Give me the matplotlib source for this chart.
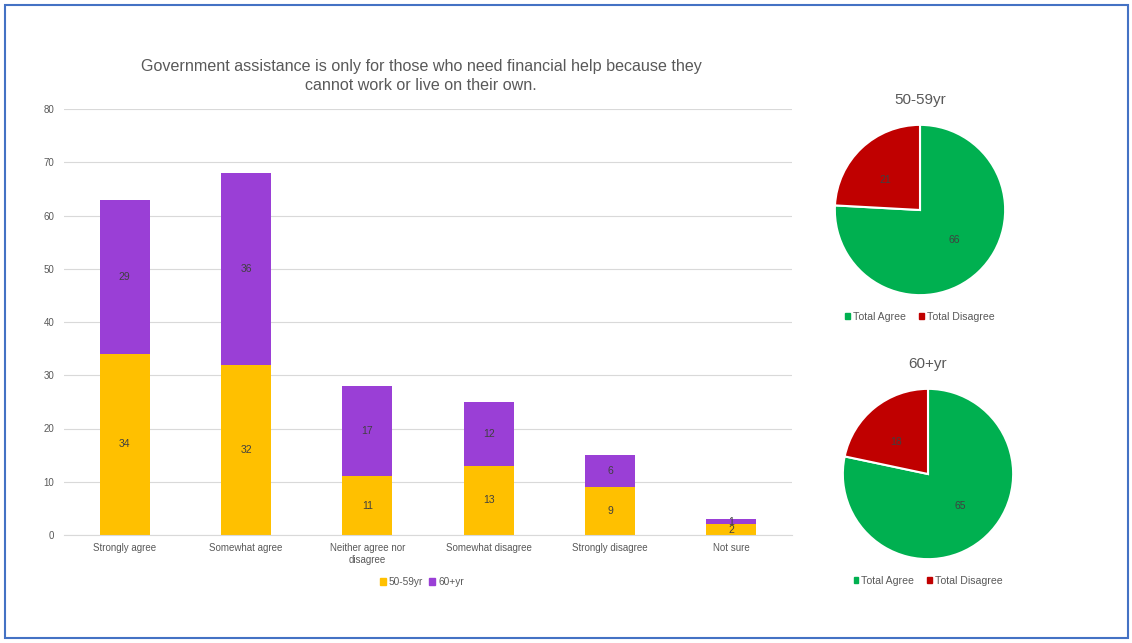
import matplotlib.pyplot as plt
from matplotlib.patches import Rectangle, Patch

plt.rcParams['font.family'] = ['Liberation Sans', 'DejaVu Sans']

# Survey responses by age group
categories = ["Strongly agree", "Somewhat agree", "Neither agree nor\ndisagree",
              "Somewhat disagree", "Strongly disagree", "Not sure"]
age_50_59 = [34, 32, 11, 13, 9, 2]
age_60_plus = [29, 36, 17, 12, 6, 1]

# Totals for the pies
pie_labels = ["Total Agree", "Total Disagree"]
pie_50_59 = [66, 21]
pie_60_plus = [65, 18]

title = ("Government assistance is only for those who need financial help because they\n"
         "cannot work or live on their own.")

ORANGE = "#FFC000"
PURPLE = "#9A3FD6"
GREEN = "#00B050"
RED = "#C00000"
TXT = "#595959"
LBL = "#404040"

fig = plt.figure(figsize=(11.32, 6.43), dpi=100)
fig.patch.set_facecolor("white")

# outer frame
fig.patches.append(Rectangle((5 / 1132, 5 / 643), 1123 / 1132, 633 / 643,
                             transform=fig.transFigure, fill=False,
                             edgecolor="#4472C4", linewidth=1.5))

# ---- stacked bars ----
ax = fig.add_axes([64 / 1132, 108 / 643, 728 / 1132, 426 / 643])
x = range(len(categories))
w = 0.41
ax.bar(x, age_50_59, width=w, color=ORANGE, label="50-59yr", zorder=2)
ax.bar(x, age_60_plus, width=w, bottom=age_50_59, color=PURPLE,
       label="60+yr", zorder=2)
for i, (lo, hi) in enumerate(zip(age_50_59, age_60_plus)):
    ax.text(i, lo / 2, str(lo), ha="center", va="center", fontsize=7.5, color=LBL)
    ax.text(i, lo + hi / 2, str(hi), ha="center", va="center", fontsize=7.5, color=LBL)

ax.set_xlim(-0.5, len(categories) - 0.5)
ax.set_ylim(0, 80)
ax.set_yticks(range(0, 81, 10))
ax.grid(axis="y", color="#D9D9D9", linewidth=0.8, zorder=0)
for s in ["top", "right", "left"]:
    ax.spines[s].set_visible(False)
ax.spines["bottom"].set_color("#D9D9D9")
ax.tick_params(axis="both", length=0, labelsize=7, labelcolor=TXT)
ax.tick_params(axis="y", pad=7)
ax.tick_params(axis="x", pad=6)
ax.set_xticks(list(x))
ax.set_xticklabels(categories, linespacing=1.2)

fig.text(421 / 1132, 1 - 76 / 643, title, ha="center", va="center",
         fontsize=11.6, color=TXT, linespacing=1.25)

fig.legend(handles=[Patch(color=ORANGE, label="50-59yr"),
                    Patch(color=PURPLE, label="60+yr")],
           loc="center", bbox_to_anchor=(422 / 1132, 1 - 582 / 643), ncol=2,
           frameon=False, fontsize=7.3, handlelength=0.6, handleheight=0.6,
           handletextpad=0.3, columnspacing=0.6, labelcolor=TXT)


# ---- pies ----
def draw_pie(cx, cy, vals, name, legend_y):
    r = 86
    pax = fig.add_axes([(cx - r) / 1132, 1 - (cy + r) / 643, 2 * r / 1132, 2 * r / 643])
    pax.pie(vals, colors=[GREEN, RED], startangle=90, counterclock=False,
            labels=[str(v) for v in vals], labeldistance=0.49,
            textprops=dict(fontsize=7.5, color=LBL),
            wedgeprops=dict(edgecolor="white", linewidth=1.5))
    pax.set_xlim(-1.01, 1.01)
    pax.set_ylim(-1.01, 1.01)
    pax.set_aspect("equal")
    fig.text(cx / 1132, 1 - (cy - 110) / 643, name, ha="center", va="center",
             fontsize=11, color=TXT)
    fig.legend(handles=[Patch(color=GREEN, label=pie_labels[0]),
                        Patch(color=RED, label=pie_labels[1])],
               loc="center", bbox_to_anchor=(cx / 1132, 1 - legend_y / 643), ncol=2,
               frameon=False, fontsize=7.6, handlelength=0.45, handleheight=0.45,
               handletextpad=0.3, columnspacing=1.2, labelcolor=TXT)


draw_pie(920, 210, pie_50_59, "50-59yr", 317)
draw_pie(928, 474, pie_60_plus, "60+yr", 581)

fig.savefig("out.png", dpi=100)
